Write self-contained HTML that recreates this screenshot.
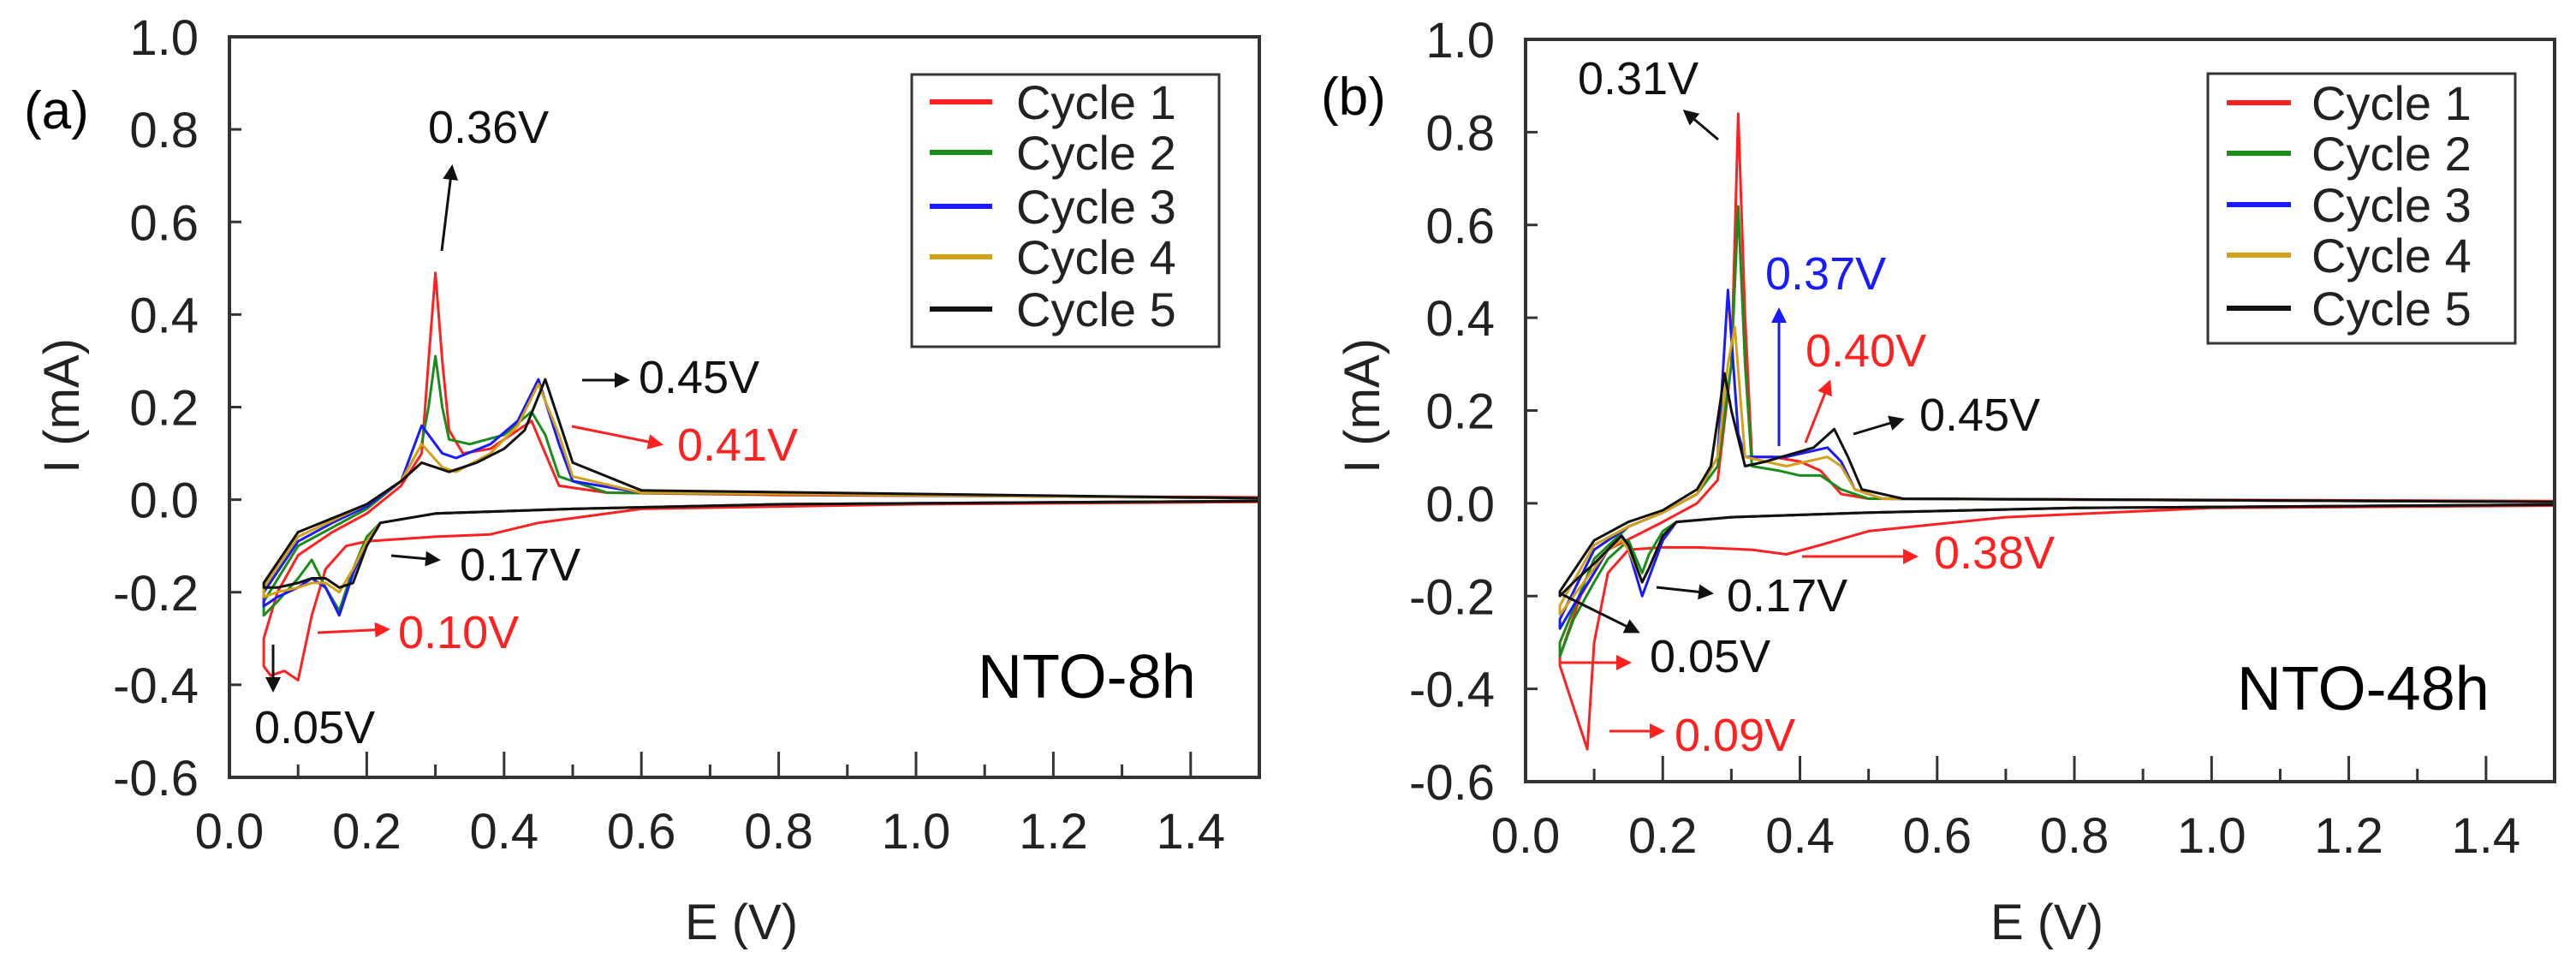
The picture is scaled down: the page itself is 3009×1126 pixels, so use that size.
<!DOCTYPE html>
<html><head><meta charset="utf-8"><style>
html,body{margin:0;padding:0;background:#fff;}
svg{display:block;font-family:"Liberation Sans",Arial,sans-serif;}
</style></head>
<body>
<svg id="fig" width="3009" height="1126" viewBox="0 0 3009 1126" xmlns="http://www.w3.org/2000/svg">
<defs>
<marker id="ak" markerWidth="6" markerHeight="6" refX="5" refY="3" orient="auto" markerUnits="strokeWidth"><path d="M0,0 L6,3 L0,6 z" fill="#111"/></marker>
<marker id="ar" markerWidth="6" markerHeight="6" refX="5" refY="3" orient="auto" markerUnits="strokeWidth"><path d="M0,0 L6,3 L0,6 z" fill="#ff2020"/></marker>
<marker id="ab" markerWidth="6" markerHeight="6" refX="5" refY="3" orient="auto" markerUnits="strokeWidth"><path d="M0,0 L6,3 L0,6 z" fill="#1a1aff"/></marker>
</defs>
<g id="panelA"></g>
<g id="panelB"></g>

<!-- Panel a annotations -->
<g font-size="54">
<text x="28" y="150" font-size="62">(a)</text>
<text x="500" y="167" fill="#111">0.36V</text>
<line x1="516" y1="293" x2="528" y2="195" stroke="#111" stroke-width="3" marker-end="url(#ak)"/>
<text x="746" y="459" fill="#111">0.45V</text>
<line x1="680" y1="444" x2="733" y2="444" stroke="#111" stroke-width="3" marker-end="url(#ak)"/>
<text x="791" y="538" fill="#ff2020">0.41V</text>
<line x1="668" y1="498" x2="772" y2="519" stroke="#ff2020" stroke-width="3" marker-end="url(#ar)"/>
<text x="537" y="678" fill="#111">0.17V</text>
<line x1="457" y1="649" x2="512" y2="654" stroke="#111" stroke-width="3" marker-end="url(#ak)"/>
<text x="465" y="757" fill="#ff2020">0.10V</text>
<line x1="371" y1="739" x2="453" y2="735" stroke="#ff2020" stroke-width="3" marker-end="url(#ar)"/>
<text x="297" y="868" fill="#111">0.05V</text>
<line x1="319" y1="753" x2="319" y2="806" stroke="#111" stroke-width="3" marker-end="url(#ak)"/>
<text x="1142" y="815" font-size="72">NTO-8h</text>
</g>

<!-- Panel b annotations -->
<g font-size="54">
<text x="1543" y="134" font-size="62">(b)</text>
<text x="1843" y="110" fill="#111">0.31V</text>
<line x1="2007" y1="163" x2="1968" y2="130" stroke="#111" stroke-width="3" marker-end="url(#ak)"/>
<text x="2062" y="338" fill="#1a1aff">0.37V</text>
<line x1="2078" y1="521" x2="2078" y2="362" stroke="#1a1aff" stroke-width="3" marker-end="url(#ab)"/>
<text x="2109" y="428" fill="#ff2020">0.40V</text>
<line x1="2109" y1="517" x2="2137" y2="446" stroke="#ff2020" stroke-width="3" marker-end="url(#ar)"/>
<text x="2242" y="503" fill="#111">0.45V</text>
<line x1="2165" y1="507" x2="2222" y2="490" stroke="#111" stroke-width="3" marker-end="url(#ak)"/>
<text x="2259" y="664" fill="#ff2020">0.38V</text>
<line x1="2105" y1="650" x2="2238" y2="650" stroke="#ff2020" stroke-width="3" marker-end="url(#ar)"/>
<text x="2017" y="714" fill="#111">0.17V</text>
<line x1="1935" y1="686" x2="1999" y2="693" stroke="#111" stroke-width="3" marker-end="url(#ak)"/>
<text x="1927" y="785" fill="#111">0.05V</text>
<line x1="1822" y1="693" x2="1913" y2="738" stroke="#111" stroke-width="3" marker-end="url(#ak)"/>
<line x1="1822" y1="774" x2="1903" y2="774" stroke="#ff2020" stroke-width="3" marker-end="url(#ar)"/>
<text x="1956" y="877" fill="#ff2020">0.09V</text>
<line x1="1880" y1="854" x2="1942" y2="854" stroke="#ff2020" stroke-width="3" marker-end="url(#ar)"/>
<text x="2613" y="829" font-size="72">NTO-48h</text>
</g>

<script>
const xTicks = [0.0,0.2,0.4,0.6,0.8,1.0,1.2,1.4];
const xTickLabels = ["0.0","0.2","0.4","0.6","0.8","1.0","1.2","1.4"];
const xMinorTicks = [0.1,0.3,0.5,0.7,0.9,1.1,1.3];
const yTicks = [1.0,0.8,0.6,0.4,0.2,0.0,-0.2,-0.4,-0.6];
const yTickLabels = ["1.0","0.8","0.6","0.4","0.2","0.0","-0.2","-0.4","-0.6"];
const cycleNames = ["Cycle 1","Cycle 2","Cycle 3","Cycle 4","Cycle 5"];

// Panel (a) NTO-8h
const aC1E = [1.5,1.0,0.6,0.45,0.38,0.3,0.2,0.17,0.14,0.12,0.1,0.08,0.06,0.05,0.05,0.07,0.1,0.15,0.2,0.25,0.28,0.29,0.3,0.31,0.32,0.34,0.38,0.42,0.44,0.46,0.48,0.55,0.8,1.5];
const aC1I = [-0.005,-0.01,-0.02,-0.05,-0.075,-0.08,-0.09,-0.1,-0.15,-0.25,-0.39,-0.37,-0.38,-0.36,-0.3,-0.2,-0.12,-0.07,-0.03,0.03,0.1,0.3,0.49,0.3,0.15,0.1,0.11,0.15,0.17,0.1,0.03,0.015,0.01,0.005];
const aC2E = [1.5,0.8,0.5,0.3,0.22,0.2,0.18,0.16,0.14,0.12,0.1,0.07,0.05,0.05,0.1,0.15,0.2,0.25,0.28,0.29,0.3,0.31,0.32,0.35,0.4,0.44,0.46,0.48,0.55,1.5];
const aC2I = [-0.003,-0.01,-0.02,-0.03,-0.05,-0.08,-0.15,-0.24,-0.19,-0.13,-0.17,-0.22,-0.25,-0.22,-0.1,-0.06,-0.02,0.04,0.12,0.2,0.31,0.2,0.13,0.12,0.14,0.19,0.14,0.05,0.015,0.003];
const aC3E = [1.5,0.8,0.5,0.3,0.22,0.2,0.18,0.16,0.14,0.12,0.1,0.07,0.05,0.05,0.1,0.15,0.2,0.25,0.28,0.31,0.33,0.38,0.42,0.45,0.48,0.5,0.6,1.5];
const aC3I = [-0.003,-0.01,-0.02,-0.03,-0.05,-0.09,-0.16,-0.25,-0.19,-0.17,-0.19,-0.21,-0.23,-0.2,-0.09,-0.05,-0.015,0.04,0.16,0.1,0.09,0.12,0.17,0.26,0.12,0.04,0.015,0.003];
const aC4E = [1.5,0.8,0.5,0.3,0.22,0.2,0.18,0.16,0.14,0.12,0.1,0.07,0.05,0.05,0.1,0.15,0.2,0.25,0.28,0.31,0.33,0.38,0.42,0.45,0.48,0.5,0.6,1.5];
const aC4I = [-0.003,-0.01,-0.02,-0.03,-0.05,-0.09,-0.15,-0.2,-0.18,-0.18,-0.19,-0.2,-0.21,-0.19,-0.08,-0.045,-0.01,0.04,0.12,0.07,0.06,0.1,0.16,0.25,0.14,0.05,0.015,0.003];
const aC5E = [1.5,0.8,0.5,0.3,0.22,0.2,0.18,0.16,0.14,0.12,0.1,0.07,0.05,0.05,0.1,0.15,0.2,0.25,0.28,0.32,0.36,0.4,0.43,0.46,0.48,0.5,0.6,1.5];
const aC5I = [-0.003,-0.01,-0.02,-0.03,-0.05,-0.1,-0.18,-0.19,-0.17,-0.17,-0.18,-0.19,-0.19,-0.18,-0.07,-0.04,-0.01,0.04,0.08,0.06,0.08,0.11,0.15,0.26,0.17,0.08,0.02,0.003];

// Panel (b) NTO-48h
const bC1E = [1.5,1.0,0.7,0.5,0.43,0.38,0.33,0.25,0.2,0.15,0.12,0.1,0.09,0.07,0.05,0.05,0.08,0.12,0.2,0.25,0.28,0.3,0.31,0.32,0.33,0.36,0.4,0.43,0.46,0.5,1.5];
const bC1I = [-0.005,-0.01,-0.03,-0.06,-0.09,-0.11,-0.1,-0.095,-0.095,-0.1,-0.15,-0.3,-0.53,-0.44,-0.35,-0.33,-0.2,-0.1,-0.04,0.0,0.05,0.3,0.84,0.4,0.1,0.1,0.09,0.07,0.02,0.01,0.005];
const bC2E = [1.5,0.8,0.5,0.3,0.22,0.2,0.18,0.17,0.15,0.12,0.1,0.07,0.05,0.05,0.1,0.15,0.2,0.25,0.28,0.3,0.31,0.32,0.33,0.37,0.4,0.43,0.46,0.5,1.5];
const bC2I = [-0.003,-0.01,-0.02,-0.03,-0.04,-0.06,-0.11,-0.15,-0.08,-0.12,-0.17,-0.25,-0.33,-0.3,-0.12,-0.05,-0.02,0.02,0.08,0.3,0.64,0.3,0.08,0.07,0.06,0.06,0.03,0.01,0.003];
const bC3E = [1.5,0.8,0.5,0.3,0.22,0.2,0.18,0.17,0.15,0.14,0.12,0.1,0.07,0.05,0.05,0.1,0.15,0.2,0.25,0.28,0.295,0.31,0.32,0.38,0.44,0.46,0.48,0.52,1.5];
const bC3I = [-0.003,-0.01,-0.02,-0.03,-0.04,-0.08,-0.16,-0.2,-0.1,-0.07,-0.1,-0.15,-0.22,-0.27,-0.25,-0.1,-0.05,-0.02,0.02,0.1,0.46,0.15,0.1,0.1,0.12,0.09,0.03,0.01,0.003];
const bC4E = [1.5,0.8,0.5,0.3,0.22,0.2,0.18,0.17,0.15,0.14,0.12,0.1,0.07,0.05,0.05,0.1,0.15,0.2,0.25,0.28,0.295,0.305,0.32,0.38,0.44,0.46,0.48,0.52,1.5];
const bC4I = [-0.003,-0.01,-0.02,-0.03,-0.04,-0.07,-0.14,-0.17,-0.1,-0.08,-0.1,-0.14,-0.2,-0.24,-0.22,-0.09,-0.05,-0.02,0.02,0.1,0.3,0.38,0.1,0.08,0.1,0.08,0.03,0.01,0.003];
const bC5E = [1.5,0.8,0.5,0.3,0.22,0.2,0.18,0.17,0.15,0.14,0.12,0.1,0.07,0.05,0.05,0.1,0.15,0.2,0.25,0.27,0.29,0.3,0.32,0.35,0.42,0.45,0.47,0.49,0.55,1.5];
const bC5I = [-0.003,-0.01,-0.02,-0.03,-0.04,-0.07,-0.14,-0.17,-0.09,-0.07,-0.1,-0.13,-0.17,-0.2,-0.19,-0.08,-0.04,-0.015,0.03,0.08,0.28,0.2,0.08,0.09,0.12,0.16,0.1,0.03,0.01,0.003];

const colors = ["#ff2020","#1a8c1a","#1a1aff","#d4a017","#111111"];
const NS = "http://www.w3.org/2000/svg";

function mk(parent, tag, attrs, text) {
  const el = document.createElementNS(NS, tag);
  for (const k in attrs) el.setAttribute(k, attrs[k]);
  if (text !== undefined) el.textContent = text;
  parent.appendChild(el);
  return el;
}

function drawPanel(g, box, series, legend, titles) {
  const xs = e => box.l + (e - 0) / 1.5 * (box.r - box.l);
  const ys = i => box.t + (1.0 - i) / 1.6 * (box.b - box.t);
  // series
  series.forEach((s, k) => {
    const pts = s[0].map((e, j) => xs(e).toFixed(1) + "," + ys(s[1][j]).toFixed(1)).join(" ");
    const pl = mk(g, "polyline", {points: pts, fill: "none", stroke: colors[k], "stroke-width": 3, "stroke-linejoin": "round"});
    
    
  });
  // frame
  const fr = mk(g, "rect", {x: box.l, y: box.t, width: box.r - box.l, height: box.b - box.t, fill: "none", stroke: "#333", "stroke-width": 4});
  
  
  xTicks.forEach((v, k) => {
    const t = mk(g, "line", {x1: xs(v), x2: xs(v), y1: box.b, y2: box.b - 30, stroke: "#333", "stroke-width": 3});
    
    
    const lb = mk(g, "text", {x: xs(v), y: box.b + 83, "font-size": 58, "text-anchor": "middle", fill: "#222"}, xTickLabels[k]);
    
    
  });
  xMinorTicks.forEach(v => {
    const t = mk(g, "line", {x1: xs(v), x2: xs(v), y1: box.b, y2: box.b - 15, stroke: "#333", "stroke-width": 3});
    
    
  });
  yTicks.forEach((v, k) => {
    const t = mk(g, "line", {x1: box.l, x2: box.l + 14, y1: ys(v), y2: ys(v), stroke: "#333", "stroke-width": 3});
    
    
    const lb = mk(g, "text", {x: box.l - 36, y: ys(v) + 21, "font-size": 58, "text-anchor": "end", fill: "#222"}, yTickLabels[k]);
    
    
  });
  const xt = mk(g, "text", {x: titles.xx, y: 1097, "font-size": 58, "text-anchor": "middle", fill: "#222"}, "E (V)");
  
  
  const yt = mk(g, "text", {x: 0, y: 0, "font-size": 58, "text-anchor": "middle", fill: "#222", transform: "translate(" + titles.yx + ",474) rotate(-90)"}, "I (mA)");
  
  
  // legend
  const lg = mk(g, "g", {});
  
  
  const lr = mk(lg, "rect", {x: legend.x, y: legend.y, width: legend.w, height: legend.h, fill: "#fff", stroke: "#333", "stroke-width": 3});
  
  
  cycleNames.forEach((n, k) => {
    const yy = legend.rows[k];
    const ll = mk(lg, "line", {x1: legend.lx1, x2: legend.lx2, y1: yy, y2: yy, stroke: colors[k], "stroke-width": 6});
    
    
    const lt = mk(lg, "text", {x: legend.tx, y: yy + 20, "font-size": 56, fill: "#222"}, n);
    
    
  });
}

drawPanel(document.getElementById("panelA"), {l: 268, r: 1471, t: 43, b: 908},
  [[aC1E,aC1I],[aC2E,aC2I],[aC3E,aC3I],[aC4E,aC4I],[aC5E,aC5I]],
  {x: 1065, y: 87, w: 359, h: 318, rows: [119,178,241,300,361], lx1: 1086, lx2: 1159, tx: 1187},
  {xx: 866, yx: 92});
drawPanel(document.getElementById("panelB"), {l: 1782, r: 2984, t: 46, b: 913},
  [[bC1E,bC1I],[bC2E,bC2I],[bC3E,bC3I],[bC4E,bC4I],[bC5E,bC5I]],
  {x: 2579, y: 86, w: 359, h: 315, rows: [120,179,239,298,360], lx1: 2601, lx2: 2676, tx: 2700},
  {xx: 2391, yx: 1611});
</script>
</svg>
</body></html>
